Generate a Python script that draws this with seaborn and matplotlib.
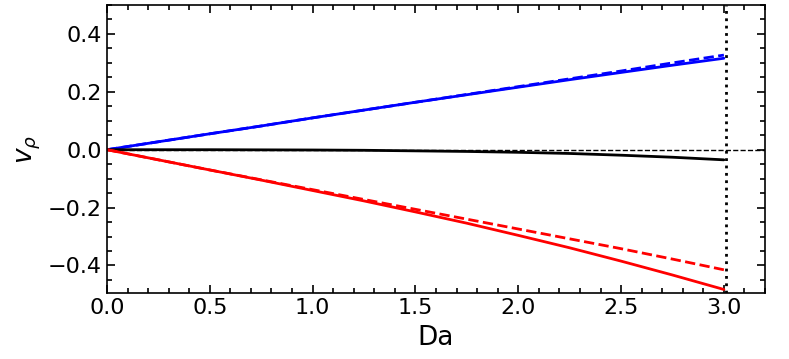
import numpy as np
import pandas as pd
import seaborn as sns
import matplotlib
matplotlib.use("Agg")
import matplotlib.pyplot as plt
from matplotlib.ticker import MultipleLocator

da = [0.0, 0.25, 0.5, 0.75, 1.0, 1.25, 1.5, 1.75, 2.0, 2.25, 2.5, 2.75, 3.0]

blue_solid = [0.0, 0.0275, 0.055, 0.082, 0.110, 0.137, 0.164, 0.190, 0.216, 0.242, 0.267, 0.292, 0.316]
blue_dashed = [0.0, 0.0275, 0.055, 0.082, 0.110, 0.137, 0.164, 0.191, 0.218, 0.245, 0.272, 0.300, 0.327]
black_solid = [0.0, 0.0, 0.0, -0.0005, -0.001, -0.002, -0.004, -0.006, -0.009, -0.013, -0.019, -0.026, -0.035]
red_solid = [0.0, -0.035, -0.070, -0.105, -0.141, -0.177, -0.215, -0.254, -0.296, -0.339, -0.385, -0.433, -0.483]
red_dashed = [0.0, -0.035, -0.070, -0.104, -0.138, -0.172, -0.206, -0.240, -0.274, -0.308, -0.342, -0.378, -0.415]

da_limit = 3.01

sns.set_style("ticks")
plt.rcParams['font.family'] = ['DejaVu Sans']
plt.rcParams['text.color'] = 'black'
plt.rcParams['axes.labelcolor'] = 'black'
plt.rcParams['xtick.color'] = 'black'
plt.rcParams['ytick.color'] = 'black'
plt.rcParams['axes.edgecolor'] = 'black'

fig = plt.figure(figsize=(7.89, 3.59), dpi=100)
ax = fig.add_axes([0.1356, 0.184, 0.834, 0.802])

ax.axhline(0.0, color='black', lw=1, ls='--')

df = pd.DataFrame({'Da': da, 'blue_solid': blue_solid, 'blue_dashed': blue_dashed,
                   'black_solid': black_solid, 'red_solid': red_solid, 'red_dashed': red_dashed})

sns.lineplot(data=df, x='Da', y='blue_dashed', color='blue', lw=2, ls='--', ax=ax)
sns.lineplot(data=df, x='Da', y='blue_solid', color='blue', lw=2, ax=ax)
sns.lineplot(data=df, x='Da', y='black_solid', color='black', lw=2, ax=ax)
sns.lineplot(data=df, x='Da', y='red_dashed', color='red', lw=2, ls='--', ax=ax)
sns.lineplot(data=df, x='Da', y='red_solid', color='red', lw=2, ax=ax)

ax.axvline(da_limit, color='black', lw=2, ls=':')

ax.set_xlim(0, 3.2)
ax.set_ylim(-0.495, 0.5)
ax.xaxis.set_major_locator(MultipleLocator(0.5))
ax.xaxis.set_minor_locator(MultipleLocator(0.1))
ax.yaxis.set_major_locator(MultipleLocator(0.2))
ax.yaxis.set_minor_locator(MultipleLocator(0.05))
ax.tick_params(which='both', direction='in', top=True, right=True, labelsize=16, width=1.2)
ax.tick_params(which='major', length=6)
ax.tick_params(which='minor', length=3.5)
for s in ax.spines.values():
    s.set_linewidth(1.2)

ax.set_xlabel('Da', fontsize=19, labelpad=5)
ax.set_ylabel(r'$v_\rho$', fontsize=19)

fig.savefig('out.png', dpi=100)
